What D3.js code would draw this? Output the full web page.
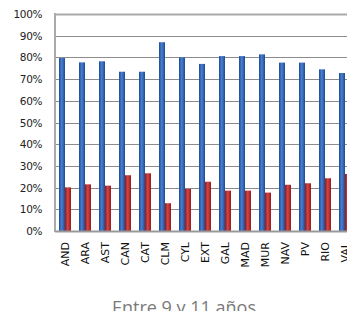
<!DOCTYPE html>
<html>
<head>
<meta charset="utf-8">
<script src="https://cdn.jsdelivr.net/npm/d3@7"></script>
<style>
  body { margin: 0; background: #fff; overflow: hidden; }
  svg { display: block; }
</style>
</head>
<body>
<div id="chart"></div>
<script>
// Regions and the two series (share, 0-1)
var regions = ["AND", "ARA", "AST", "CAN", "CAT", "CLM", "CYL", "EXT", "GAL", "MAD", "MUR", "NAV", "PV", "RIO", "VAL"];
var serieA = [0.797, 0.777, 0.782, 0.734, 0.734, 0.870, 0.800, 0.770, 0.806, 0.806, 0.814, 0.776, 0.776, 0.745, 0.728];
var serieB = [0.201, 0.215, 0.209, 0.257, 0.266, 0.128, 0.194, 0.227, 0.186, 0.186, 0.177, 0.213, 0.220, 0.243, 0.263];
var yTicks = [0, 0.1, 0.2, 0.3, 0.4, 0.5, 0.6, 0.7, 0.8, 0.9, 1];
var title = "Entre 9 y 11 años";

var W = 347, H = 311;
var plotLeft = 55, plotTop = 14, plotBottom = 231;

var svg = d3.select("#chart").append("svg")
    .attr("width", W)
    .attr("height", H);

// gradients for the cylinder-ish look
var defs = svg.append("defs");
function grad(id, edge, mid) {
  var g = defs.append("linearGradient").attr("id", id)
      .attr("x1", "0%").attr("x2", "100%").attr("y1", "0%").attr("y2", "0%");
  g.append("stop").attr("offset", "0%").attr("stop-color", edge);
  g.append("stop").attr("offset", "45%").attr("stop-color", mid);
  g.append("stop").attr("offset", "100%").attr("stop-color", edge);
}
grad("gBlue", "#1d4a93", "#4a80d0");
grad("gRed", "#8c1c1c", "#d84444");

var x = d3.scaleBand()
    .domain(regions)
    .range([plotLeft, plotLeft + 20 * regions.length])
    .paddingInner(0.4)
    .paddingOuter(0.2);

var xs = d3.scaleBand()
    .domain(["a", "b"])
    .range([0, x.bandwidth()]);

var y = d3.scaleLinear()
    .domain([0, 1])
    .range([plotBottom, plotTop]);

// gridlines
svg.append("g")
  .selectAll("line")
  .data(yTicks)
  .enter().append("line")
    .attr("x1", plotLeft)
    .attr("x2", W)
    .attr("y1", function(d) { return Math.round(y(d)) + 0.5; })
    .attr("y2", function(d) { return Math.round(y(d)) + 0.5; })
    .attr("stroke", function(d) { return d === 1 ? "#aaa" : "#8c8c8c"; })
    .attr("stroke-width", function(d) { return d === 1 ? 2 : 1; });

// bars
var groups = svg.append("g")
  .selectAll("g")
  .data(regions)
  .enter().append("g")
    .attr("transform", function(d) { return "translate(" + x(d) + ",0)"; });

groups.append("rect")
    .attr("x", xs("a"))
    .attr("width", xs.bandwidth())
    .attr("y", function(d, i) { return y(serieA[i]); })
    .attr("height", function(d, i) { return plotBottom - y(serieA[i]); })
    .attr("fill", "url(#gBlue)");

groups.append("rect")
    .attr("x", xs("b"))
    .attr("width", xs.bandwidth())
    .attr("y", function(d, i) { return y(serieB[i]); })
    .attr("height", function(d, i) { return plotBottom - y(serieB[i]); })
    .attr("fill", "url(#gRed)");

// axis lines
svg.append("line")
    .attr("x1", plotLeft).attr("x2", plotLeft)
    .attr("y1", plotTop - 1).attr("y2", plotBottom + 1)
    .attr("stroke", "#aaa").attr("stroke-width", 2);
svg.append("line")
    .attr("x1", plotLeft).attr("x2", W)
    .attr("y1", plotBottom + 0.5).attr("y2", plotBottom + 0.5)
    .attr("stroke", "#999").attr("stroke-width", 2);

// y labels
svg.append("g")
  .selectAll("text")
  .data(yTicks)
  .enter().append("text")
    .attr("x", 42)
    .attr("y", function(d) { return y(d) + 4; })
    .attr("text-anchor", "end")
    .attr("font-family", "DejaVu Sans")
    .attr("font-size", "10.5px")
    .attr("letter-spacing", "-0.4px")
    .attr("fill", "#222")
    .text(function(d) { return Math.round(d * 100) + "%"; });

// x labels, rotated
svg.append("g")
  .selectAll("text")
  .data(regions)
  .enter().append("text")
    .attr("transform", function(d) {
      return "translate(" + (x(d) + x.bandwidth() / 2 + 4) + "," + (plotBottom + 11) + ") rotate(-90)";
    })
    .attr("text-anchor", "end")
    .attr("font-family", "DejaVu Sans")
    .attr("font-size", "11px")
    .attr("fill", "#111")
    .text(function(d) { return d; });

// title
svg.append("text")
    .attr("x", 184)
    .attr("y", 314)
    .attr("text-anchor", "middle")
    .attr("font-family", "Open Sans")
    .attr("font-size", "18px")
    .attr("fill", "#7a7a7a")
    .text(title);
</script>
</body>
</html>
